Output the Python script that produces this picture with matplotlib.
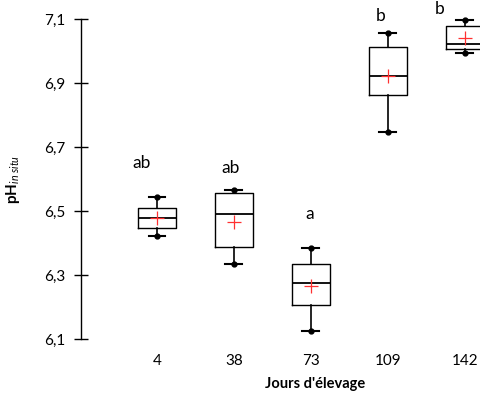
import matplotlib.pyplot as plt

plt.rcParams['font.family'] = ['Lato', 'DejaVu Sans']
plt.rcParams['mathtext.fontset'] = 'custom'
plt.rcParams['mathtext.rm'] = 'Lato'
plt.rcParams['mathtext.it'] = 'Lato:italic'
plt.rcParams['mathtext.bf'] = 'Lato:bold'

# données
jours = ['4', '38', '73', '109', '142']
w_low = [6.422, 6.334, 6.125, 6.747, 6.994]
q1 = [6.447, 6.388, 6.206, 6.862, 7.006]
med = [6.478, 6.491, 6.275, 6.922, 7.022]
q3 = [6.509, 6.556, 6.334, 7.012, 7.078]
w_high = [6.544, 6.566, 6.384, 7.056, 7.097]
moy = [6.478, 6.466, 6.266, 6.922, 7.040]
lettres = ['ab', 'ab', 'a', 'b', 'b']
lettre_y = [6.65, 6.635, 6.49, 7.11, 7.13]
lettre_dx = [-0.2, -0.05, -0.02, -0.1, -0.33]

fig = plt.figure(figsize=(4.81, 3.94), dpi=100)
ax = fig.add_axes([81/481, 55/394, 400/481, 320/394])

pos = list(range(1, len(jours) + 1))
stats = []
for i in range(len(jours)):
    stats.append(dict(whislo=w_low[i], q1=q1[i], med=med[i], q3=q3[i],
                      whishi=w_high[i], mean=moy[i], fliers=[]))

ax.bxp(stats, positions=pos, widths=0.5, showmeans=True, patch_artist=False,
       boxprops=dict(color='black', linewidth=1),
       medianprops=dict(color='black', linewidth=1.3),
       whiskerprops=dict(color='black', linewidth=1.2),
       capprops=dict(color='black', linewidth=1.5),
       capwidths=0.22,
       meanprops=dict(marker='+', markeredgecolor='#ff3030', markersize=10,
                      markeredgewidth=0.9))

ax.plot(pos, w_low, 'o', color='black', markersize=3.5, zorder=5)
ax.plot(pos, w_high, 'o', color='black', markersize=3.5, zorder=5)

for i in range(len(jours)):
    ax.text(pos[i] + lettre_dx[i], lettre_y[i], lettres[i], ha='center', va='center',
            fontsize=12.5)

ax.set_xlim(0.013, 5.21)
ax.set_ylim(6.1, 7.1)
ax.set_yticks([6.1, 6.3, 6.5, 6.7, 6.9, 7.1])
ax.set_yticklabels(['6,1', '6,3', '6,5', '6,7', '6,9', '7,1'])
ax.set_xticks(pos)
ax.set_xticklabels(jours)
ax.tick_params(axis='x', length=0, pad=11, labelsize=11)
ax.tick_params(axis='y', direction='inout', length=10, width=1, pad=6, labelsize=11)

for s in ['top', 'right', 'bottom']:
    ax.spines[s].set_visible(False)
ax.spines['left'].set_linewidth(1)

ax.set_xlabel("Jours d'élevage", fontweight='bold', fontsize=10.5)
ax.xaxis.set_label_coords(0.585, -0.12)
ax.set_ylabel(r'$\mathbf{pH}_{\mathit{in\ situ}}$', fontsize=11)
ax.yaxis.set_label_coords(-0.148, 0.5)

for art in ax.get_children():
    try:
        art.set_clip_on(False)
    except Exception:
        pass

fig.savefig('out.png', dpi=100)
